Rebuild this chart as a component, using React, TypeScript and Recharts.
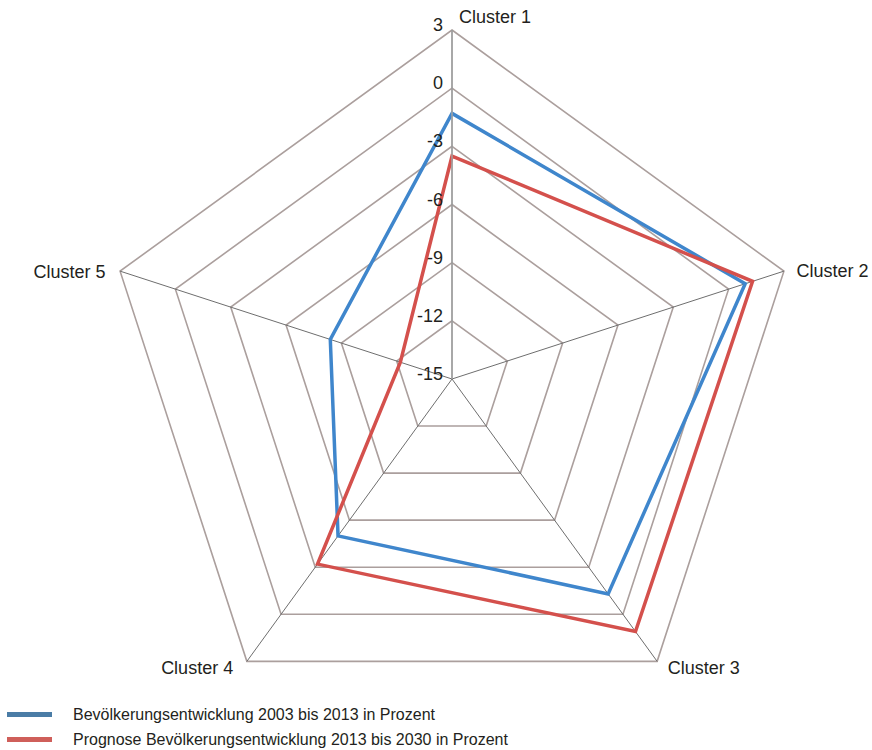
import { RadarChart, Radar, PolarGrid, PolarAngleAxis, PolarRadiusAxis } from 'recharts';

// Cluster names around the web
const clusters = ['Cluster 1', 'Cluster 2', 'Cluster 3', 'Cluster 4', 'Cluster 5'];

// Bevölkerungsentwicklung 2003 bis 2013 (%)
const entwicklung2003bis2013 = [-1.3, 0.9, -1.3, -5.0, -8.4];

// Prognose 2013 bis 2030 (%)
const prognose2013bis2030 = [-3.5, 1.3, 1.1, -3.2, -12.2];

const radiusTicks = [-15, -12, -9, -6, -3, 0, 3];

const seriesNames = [
  'Bevölkerungsentwicklung 2003 bis 2013 in Prozent',
  'Prognose Bevölkerungsentwicklung 2013 bis 2030 in Prozent',
];

const data = clusters.map((name, i) => ({
  name,
  entwicklung: entwicklung2003bis2013[i],
  prognose: prognose2013bis2030[i],
}));

const FONT = '"Liberation Sans", Arial, Helvetica, sans-serif';
const TEXT = '#231f20';
const BLUE = '#3f86cc';
const RED = '#d4504c';

// label placement next to each corner of the outer pentagon
const labelOffsets = [
  { dx: 7, dy: 1, anchor: 'start' },
  { dx: 5, dy: 8, anchor: 'start' },
  { dx: 6, dy: 6, anchor: 'start' },
  { dx: -9, dy: 6, anchor: 'end' },
  { dx: -7, dy: 9, anchor: 'end' },
];

const AngleTick = (props: any) => {
  const { x, y, payload, index } = props;
  const o = labelOffsets[index] ?? { dx: 0, dy: 0, anchor: 'middle' };
  return (
    <text x={x + o.dx} y={y + o.dy} textAnchor={o.anchor} fontSize={18} fontFamily={FONT} fill={TEXT}>
      {payload.value}
    </text>
  );
};

const RadiusTick = (props: any) => {
  const { x, y, payload } = props;
  return (
    <text x={x - 9} y={y + 1} textAnchor="end" fontSize={18} fontFamily={FONT} fill={TEXT}>
      {payload.value}
    </text>
  );
};

const legendColors = ['#4a7ca6', '#cf5f5a'];

export default function App() {
  return (
    <div style={{ position: 'relative', width: 872, height: 750, background: '#fff' }}>
      <style>{'body{margin:0}'}</style>
      <RadarChart
        width={872}
        height={750}
        data={data}
        cx={452}
        cy={379}
        outerRadius={349}
        margin={{ top: 0, right: 0, bottom: 0, left: 0 }}
      >
        {/* rings */}
        <PolarGrid gridType="polygon" radialLines={false} stroke="#ab9f9d" strokeWidth={1.6} />
        {/* spokes */}
        <PolarGrid gridType="polygon" polarRadius={[]} stroke="#6e6e6e" strokeWidth={1} />
        <PolarAngleAxis dataKey="name" tick={<AngleTick />} tickLine={false} axisLine={false} />
        <PolarRadiusAxis
          angle={90}
          domain={[-15, 3]}
          ticks={radiusTicks as any}
          tickCount={7}
          tick={<RadiusTick />}
          tickLine={false}
          axisLine={{ stroke: '#a3a3a3', strokeWidth: 1.5 }}
        />
        <Radar
          name={seriesNames[0]}
          dataKey="entwicklung"
          stroke={BLUE}
          strokeWidth={3.5}
          fill="none"
          fillOpacity={0}
          isAnimationActive={false}
        />
        <Radar
          name={seriesNames[1]}
          dataKey="prognose"
          stroke={RED}
          strokeWidth={3.5}
          fill="none"
          fillOpacity={0}
          isAnimationActive={false}
        />
      </RadarChart>
      <div style={{ position: 'absolute', left: 0, top: 702, fontFamily: FONT, fontSize: 16, color: TEXT }}>
        {seriesNames.map((name, i) => (
          <div key={name} style={{ display: 'flex', alignItems: 'center', height: 25 }}>
            <span
              style={{ display: 'inline-block', marginLeft: 7, width: 45, height: 5, background: legendColors[i] }}
            />
            <span style={{ marginLeft: 21 }}>{name}</span>
          </div>
        ))}
      </div>
    </div>
  );
}
